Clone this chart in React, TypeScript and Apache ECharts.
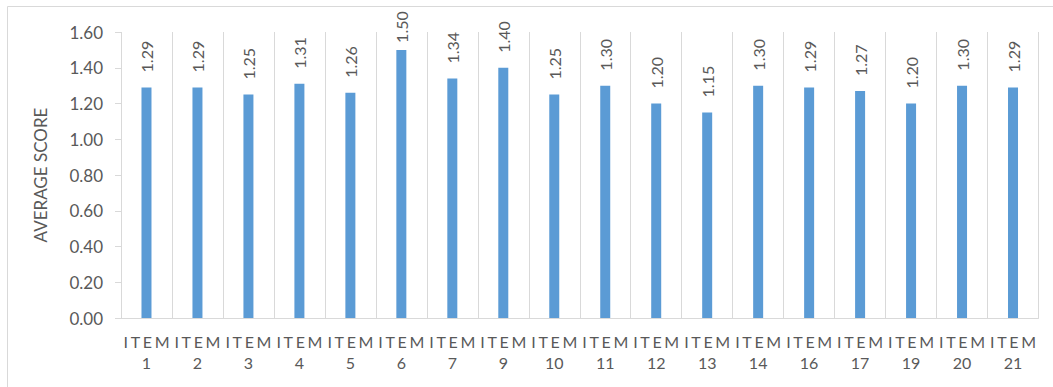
import React, { useEffect, useRef } from "react";
import * as echarts from "echarts";

// Average score per survey item
const itemNumbers = ["1", "2", "3", "4", "5", "6", "7", "9", "10", "11", "12", "13", "14", "16", "17", "19", "20", "21"];
const averageScores = [1.29, 1.29, 1.25, 1.31, 1.26, 1.5, 1.34, 1.4, 1.25, 1.3, 1.2, 1.15, 1.3, 1.29, 1.27, 1.2, 1.3, 1.29];
const yTicks = [0, 0.2, 0.4, 0.6, 0.8, 1.0, 1.2, 1.4, 1.6];

const FONT = "Lato, Carlito, 'Liberation Sans', sans-serif";
const TEXT = "#595959";
const LINE = "#d9d9d9";
const BAR = "#5b9bd5";

// "ITEM" is drawn with wide letter spacing
const spaced = (s: string) => s.split("").join("\u2006");

export default function App() {
  const ref = useRef<HTMLDivElement>(null);

  useEffect(() => {
    if (!ref.current) return;
    const chart = echarts.init(ref.current, undefined, { renderer: "svg" });
    const maxScore = Math.max(...averageScores);

    chart.setOption({
      animation: false,
      backgroundColor: "#ffffff",
      textStyle: { fontFamily: FONT },
      graphic: [
        {
          type: "rect",
          shape: { x: 7.5, y: 6.5, width: 1200, height: 600 },
          style: { fill: "none", stroke: LINE, lineWidth: 1 },
          silent: true,
        },
      ],
      grid: { left: 121, right: 14.5, top: 32, bottom: 69 },
      xAxis: {
        type: "category",
        data: itemNumbers.map((n) => `${spaced("ITEM")}\n${n}`),
        boundaryGap: true,
        axisLine: { show: true, lineStyle: { color: LINE, width: 1 } },
        axisTick: { show: false },
        splitLine: { show: true, lineStyle: { color: LINE, width: 1 } },
        axisLabel: {
          interval: 0,
          margin: 13,
          color: TEXT,
          fontSize: 16,
          lineHeight: 21,
          fontFamily: FONT,
        },
      },
      yAxis: {
        type: "value",
        min: yTicks[0],
        max: yTicks[yTicks.length - 1],
        interval: 0.2,
        name: "AVERAGE SCORE",
        nameLocation: "middle",
        nameGap: 72,
        nameTextStyle: { color: TEXT, fontSize: 17, fontFamily: FONT },
        axisLine: { show: false },
        axisTick: { show: true, length: 6, lineStyle: { color: LINE } },
        splitLine: { show: false },
        axisLabel: {
          color: TEXT,
          fontSize: 17,
          margin: 18,
          fontFamily: FONT,
          formatter: (v: number) => v.toFixed(2),
        },
      },
      series: [
        {
          type: "bar",
          barWidth: 10,
          itemStyle: { color: BAR },
          data: averageScores.map((v) =>
            v === maxScore
              ? { value: v, label: { distance: 7 } }
              : { value: v }
          ),
          label: {
            show: true,
            position: "top",
            distance: 15,
            rotate: 90,
            align: "left",
            verticalAlign: "middle",
            color: TEXT,
            fontSize: 16,
            fontFamily: FONT,
            formatter: (p: any) => Number(p.value).toFixed(2),
          },
        },
      ],
    });

    return () => chart.dispose();
  }, []);

  return (
    <div
      ref={ref}
      style={{ position: "fixed", left: 0, top: 0, width: 1053, height: 387 }}
    />
  );
}
